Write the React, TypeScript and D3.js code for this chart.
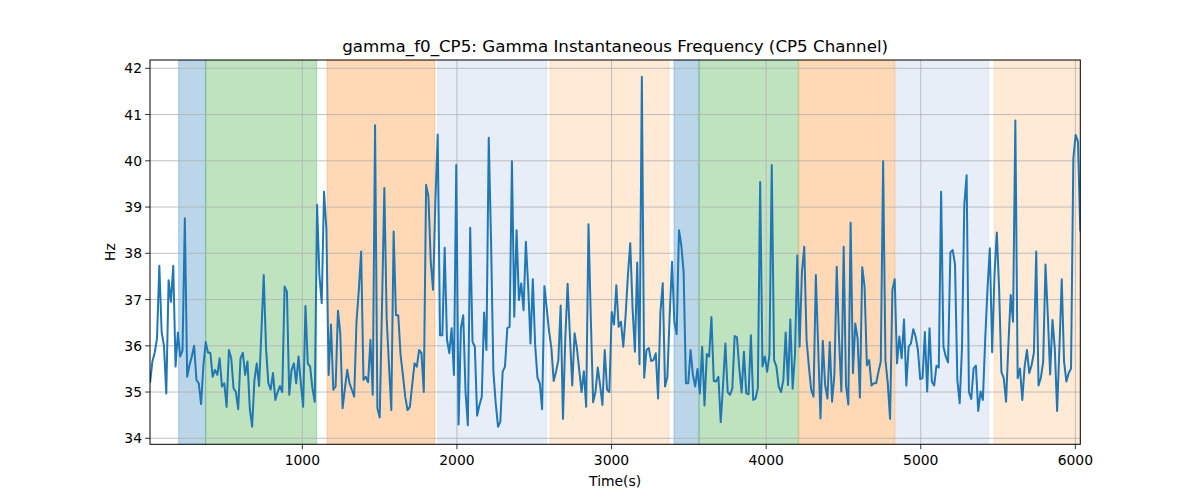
import * as d3 from "d3";

// gamma instantaneous frequency samples (Hz), evenly spaced in time
const VALUES = [
  35.2, 35.66, 35.85, 36.16, 37.73, 36.3, 36.0, 34.97, 37.42, 36.95, 37.73, 35.55, 36.29, 35.77, 35.9, 38.76,
  35.33, 35.58, 35.77, 36.0, 35.26, 35.19, 34.74, 35.58, 36.08, 35.85, 35.85, 35.33, 35.48, 35.37, 35.73, 35.12,
  35.19, 34.68, 35.91, 35.73, 35.08, 35.0, 34.63, 35.73, 35.85, 35.37, 35.66, 34.64, 34.25, 35.26, 35.62, 35.13,
  36.3, 37.53, 35.95, 35.19, 35.05, 35.41, 34.83, 35.0, 35.13, 35.0, 37.28, 37.17, 34.94, 35.48, 35.62, 35.19,
  35.77, 35.19, 34.68, 36.86, 35.62, 35.55,
  35.08, 34.79, 39.05, 37.53, 36.92, 39.33, 38.54, 35.37, 36.46, 35.05, 35.12, 36.76, 36.27, 34.65, 35.08, 35.48,
  35.19, 35.05, 34.9, 36.52, 37.21, 38.04, 35.26, 35.33, 35.21, 36.13, 34.94, 40.77, 34.65, 34.45, 36.88, 39.41,
  36.59, 35.58, 34.61, 38.47, 36.66, 36.66, 35.8, 35.37, 34.9, 34.61, 34.68, 35.15, 35.62, 35.55, 35.91, 35.84,
  35.0, 39.48, 39.23, 37.82, 37.21, 39.12, 40.57, 36.23, 36.23, 38.12, 36.13, 35.84, 36.38, 35.37, 39.91,
  34.3, 36.38, 36.66, 35.0, 34.28, 38.55, 36.09, 35.98, 34.49, 34.72, 34.9, 36.72, 35.91, 40.5, 38.25, 35.44,
  34.76, 34.25, 34.36, 35.44, 35.55, 36.38, 36.41, 39.99, 36.63, 38.5, 36.99, 37.35, 36.77, 38.25, 37.28, 36.05,
  37.44, 36.02, 35.31, 35.19, 34.63, 37.29, 36.81, 36.31, 35.95, 35.24, 35.44, 35.69, 36.87, 34.42, 36.16, 37.34,
  36.2, 35.14, 36.27, 35.95, 35.48, 35.0, 35.45, 34.68, 38.63, 36.59, 34.78, 35.0, 35.53, 35.15, 34.72, 35.91,
  35.05, 35.0, 36.73, 36.46, 37.31, 36.41,
  36.52, 35.98, 36.66, 37.53, 38.22, 36.81, 35.87, 37.8, 35.6, 41.82, 35.31, 35.91, 35.95, 35.67, 35.69, 35.84,
  34.86, 36.73, 37.35, 35.12, 35.33, 36.66, 37.82, 36.52, 36.25, 38.5, 38.18, 37.6, 35.19, 35.19, 35.91, 35.37,
  35.12, 35.5, 34.97, 35.98, 34.71, 35.82, 35.77, 36.62, 35.24, 35.23, 35.33, 34.35, 35.15, 36.05, 35.0, 34.94,
  35.08, 36.21, 36.18, 35.51, 34.99, 35.87, 34.97, 34.95, 36.23, 34.83, 34.86, 35.08, 39.54, 35.55, 35.77, 35.44,
  35.8, 39.91,
  35.69, 35.55, 35.12, 35.0, 35.26, 36.29, 35.15, 36.57, 35.07, 35.8, 37.95, 35.98, 37.6, 38.14, 36.13, 35.55,
  35.05, 34.9, 37.53, 35.98, 34.43, 36.11, 35.15, 34.86, 36.08, 34.79, 35.37, 37.71, 36.16, 35.01, 38.14, 35.15,
  34.73, 38.66, 35.41, 36.48, 36.16, 34.88, 37.7, 37.28, 35.58, 35.69, 35.14, 35.19, 35.19, 35.44, 35.66, 39.99,
  35.69, 35.19, 34.42, 37.21, 37.44, 35.62, 36.2, 35.73, 36.57, 35.14, 35.98, 36.05, 36.36, 36.2, 35.91, 35.28,
  35.3, 36.3, 35.01, 36.38,
  35.23, 35.14, 35.57, 35.53, 39.33, 35.98, 35.77, 35.64, 38.02, 38.07, 37.76, 35.26, 34.76, 35.95, 39.05, 39.69,
  35.0, 34.85, 35.51, 35.57, 34.59, 35.01, 34.83, 36.13, 37.24, 38.11, 35.86, 37.53, 38.45, 37.24, 35.43, 35.3,
  34.79, 36.02, 37.1, 36.52, 40.87, 35.3, 35.51, 34.83, 35.55, 35.91, 35.41, 35.58, 35.85, 38.04, 35.14, 35.31,
  35.66, 37.76, 36.66, 35.38, 36.56, 35.95, 34.59, 35.95, 37.44, 35.66, 35.23, 35.41, 35.51, 40.05, 40.56, 40.41,
  38.47,
];
const START_TIME = 15;
const END_TIME = 6032;

// shaded phases
const SPAN_START = [200, 375, 1160, 1876, 2602, 3404, 3566, 4212, 4838, 5474];
const SPAN_END = [375, 1093, 1858, 2580, 3372, 3566, 4208, 4833, 5440, 6100];
const SPAN_KIND = ["a", "b", "c", "d", "e", "a", "b", "c", "d", "e"];

const X_TICKS = [1000, 2000, 3000, 4000, 5000, 6000];
const Y_TICKS = [34, 35, 36, 37, 38, 39, 40, 41, 42];

const KIND_COLOR: Record<string, string> = {
  a: "#1f77b4",
  b: "#2ca02c",
  c: "#ff7f0e",
  d: "#aec7e8",
  e: "#ffbb78",
};

const W = 1200;
const H = 500;
const M = { left: 150, right: 1080.3, top: 60, bottom: 444.3 };
const FONT = "DejaVu Sans, sans-serif";

export default function App() {
  const x = d3.scaleLinear().domain([14.7, 6032]).range([M.left, M.right]);
  const y = d3.scaleLinear().domain([33.87, 42.18]).range([M.bottom, M.top]);
  const tIdx = d3.scaleLinear().domain([0, VALUES.length - 1]).range([START_TIME, END_TIME]);

  const line = d3
    .line<number>()
    .x((_, i) => x(tIdx(i)))
    .y((d) => y(d));

  const spans = SPAN_START.map((s, i) => ({ s, e: SPAN_END[i], k: SPAN_KIND[i] }));

  return (
    <svg
      width={W}
      height={H}
      style={{ position: "absolute", left: 0, top: 0, background: "#fff" }}
      fontFamily={FONT}
    >
      <defs>
        <clipPath id="plot">
          <rect x={M.left} y={M.top} width={M.right - M.left} height={M.bottom - M.top} />
        </clipPath>
      </defs>
      <g clipPath="url(#plot)">
        {spans.map((d, i) => (
          <rect
            key={i}
            x={x(d.s)}
            y={M.top}
            width={x(d.e) - x(d.s)}
            height={M.bottom - M.top}
            fill={KIND_COLOR[d.k]}
            fillOpacity={0.3}
            stroke={KIND_COLOR[d.k]}
            strokeOpacity={0.3}
            strokeWidth={1}
          />
        ))}
        {X_TICKS.map((t) => (
          <line key={t} x1={x(t)} x2={x(t)} y1={M.top} y2={M.bottom} stroke="#b0b0b0" strokeWidth={0.8} />
        ))}
        {Y_TICKS.map((t) => (
          <line key={t} x1={M.left} x2={M.right} y1={y(t)} y2={y(t)} stroke="#b0b0b0" strokeWidth={0.8} />
        ))}
        <path d={line(VALUES) ?? ""} fill="none" stroke="#1f77b4" strokeWidth={2} strokeLinejoin="round" />
      </g>
      <rect
        x={M.left}
        y={M.top}
        width={M.right - M.left}
        height={M.bottom - M.top}
        fill="none"
        stroke="#000"
        strokeWidth={1}
      />
      {X_TICKS.map((t) => (
        <g key={t}>
          <line x1={x(t)} x2={x(t)} y1={M.bottom} y2={M.bottom + 4.9} stroke="#000" strokeWidth={0.8} />
          <text x={x(t)} y={M.bottom + 21} textAnchor="middle" fontSize={13.9} fill="#000">
            {t}
          </text>
        </g>
      ))}
      {Y_TICKS.map((t) => (
        <g key={t}>
          <line x1={M.left - 4.9} x2={M.left} y1={y(t)} y2={y(t)} stroke="#000" strokeWidth={0.8} />
          <text x={M.left - 8} y={y(t) + 5} textAnchor="end" fontSize={13.9} fill="#000">
            {t}
          </text>
        </g>
      ))}
      <text x={(M.left + M.right) / 2} y={52} textAnchor="middle" fontSize={16.7} fill="#000">
        gamma_f0_CP5: Gamma Instantaneous Frequency (CP5 Channel)
      </text>
      <text x={(M.left + M.right) / 2} y={486} textAnchor="middle" fontSize={13.9} fill="#000">
        Time(s)
      </text>
      <text
        transform={`translate(115,${(M.top + M.bottom) / 2}) rotate(-90)`}
        textAnchor="middle"
        fontSize={13.9}
        fill="#000"
      >
        Hz
      </text>
    </svg>
  );
}
